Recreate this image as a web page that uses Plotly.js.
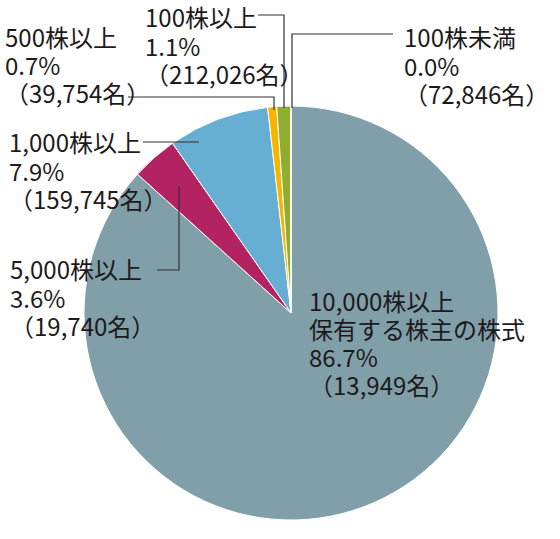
<!DOCTYPE html>
<html>
<head>
<meta charset="utf-8">
<script src="https://cdn.plot.ly/plotly-3.0.1.min.js"></script>
<style>
  html, body { margin: 0; padding: 0; background: #fff; }
  #chart { width: 560px; height: 539px; }
</style>
</head>
<body>
<div id="chart"></div>
<script>
// data, clockwise from 12 o'clock
let categories = ['10,000株以上', '5,000株以上', '1,000株以上', '500株以上', '100株以上', '100株未満'];
let shares = [86.7, 3.6, 7.9, 0.7, 1.1, 0.0];
let holders = ['13,949', '19,740', '159,745', '39,754', '212,026', '72,846'];
let colors = ['#819fa9', '#b42361', '#67aed3', '#f6b500', '#8fad2e', '#8fad2e'];

const W = 560, H = 539;
const px = x => x / W;
const py = y => 1 - y / H;

let trace = {
    type: 'pie',
    values: shares,
    labels: categories,
    sort: false,
    direction: 'clockwise',
    rotation: 0,
    textinfo: 'none',
    hoverinfo: 'none',
    marker: { colors: colors, line: { color: '#ffffff', width: 1 } },
    domain: { x: [px(84), px(498)], y: [py(520), py(106)] },
};

// label blocks: [category index, left x, first line y, extra line]
let blocks = [
    [0, 307, 300, '保有する株主の株式'],
    [1, 8, 269],
    [2, 7, 142],
    [3, 3, 36],
    [4, 143, 17],
    [5, 402, 37],
];

let annotations = [];
blocks.forEach(b => {
    let i = b[0];
    let lines = [categories[i]];
    if (b[3]) lines.push(b[3]);
    lines.push(shares[i].toFixed(1) + '%');
    lines.push('（' + holders[i] + '名）');
    lines.forEach((t, k) => {
        annotations.push({
            xref: 'paper', yref: 'paper',
            x: px(b[1]), y: py(b[2] + k * 28.3),
            xanchor: 'left', yanchor: 'middle',
            text: t, showarrow: false,
            font: { family: 'Noto Sans CJK JP', size: 24, color: '#1e1a1b' },
        });
    });
});

// leader lines (pixel points)
let leaders = [
    [[258, 15], [284, 15], [284, 108]],
    [[393, 34], [292, 34], [292, 108]],
    [[128, 97], [274, 97], [274, 110]],
    [[143, 142], [199, 142]],
    [[157, 270], [179, 270], [179, 186]],
];

let shapes = leaders.map(pts => ({
    type: 'path', xref: 'paper', yref: 'paper',
    path: pts.map((p, k) => (k ? 'L' : 'M') + px(p[0]) + ',' + py(p[1])).join(' '),
    line: { color: '#333333', width: 1.2 },
}));

let layout = {
    width: W, height: H,
    margin: { l: 0, r: 0, t: 0, b: 0 },
    showlegend: false,
    paper_bgcolor: '#ffffff',
    annotations: annotations,
    shapes: shapes,
};

Plotly.newPlot('chart', [trace], layout, { displayModeBar: false, staticPlot: true });
</script>
</body>
</html>
